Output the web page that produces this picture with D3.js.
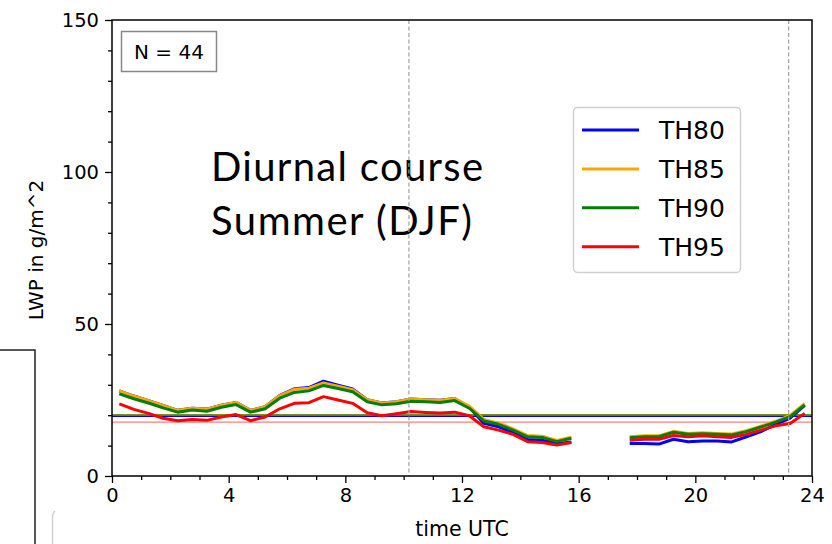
<!DOCTYPE html>
<html><head><meta charset="utf-8">
<script src="https://cdn.jsdelivr.net/npm/d3@7"></script>
<style>body{margin:0;background:#fff}svg{display:block}</style>
</head><body>
<svg id="c" width="832" height="544"></svg>
<script>
const times = [0.25,0.75,1.25,1.75,2.25,2.75,3.25,3.75,4.25,4.75,5.25,5.75,6.25,6.75,7.25,7.75,8.25,8.75,9.25,9.75,10.25,10.75,11.25,11.75,12.25,12.75,13.25,13.75,14.25,14.75,15.25,15.75,16.25,16.75,17.25,17.75,18.25,18.75,19.25,19.75,20.25,20.75,21.25,21.75,22.25,22.75,23.25,23.75];
const th80 = [28.0,26.3,24.8,23.2,21.6,22.3,22.0,23.3,24.2,21.6,22.8,26.5,28.7,29.1,31.2,29.9,28.6,25.1,24.0,24.4,25.3,25.1,24.9,25.5,22.6,17.3,16.2,14.4,12.0,11.8,10.6,11.2,null,null,null,10.7,10.7,10.5,12.1,11.3,11.5,11.5,11.2,12.9,14.6,17.0,19.0,23.2];
const th85 = [28.0,26.3,24.8,23.2,21.6,22.3,22.0,23.3,24.2,21.6,22.8,26.4,28.5,28.9,30.6,29.5,28.4,25.1,24.0,24.4,25.3,25.1,24.9,25.5,23.0,18.6,17.4,15.5,13.3,13.1,11.7,12.8,null,null,null,12.9,13.2,13.2,14.7,14.0,14.2,14.0,13.8,14.9,16.4,18.0,19.9,23.8];
const th90 = [27.0,25.4,24.0,22.4,21.0,21.7,21.3,22.6,23.5,21.0,22.1,25.6,27.5,28.0,29.8,28.8,27.7,24.4,23.4,23.8,24.6,24.4,24.2,24.8,22.3,18.1,17.0,15.1,12.9,12.7,11.3,12.4,null,null,null,12.6,12.9,12.9,14.4,13.7,13.9,13.7,13.5,14.6,16.1,17.7,19.5,23.4];
const th95 = [23.7,21.9,20.6,19.0,18.2,18.6,18.3,19.4,20.2,18.2,19.4,22.1,23.9,24.1,26.1,25.0,23.9,20.8,19.8,20.5,21.2,20.9,20.7,21.0,19.8,16.2,15.1,13.7,11.3,11.0,10.2,11.0,null,null,null,11.8,12.1,12.1,13.3,12.9,13.2,12.9,12.7,13.7,15.1,16.5,17.3,20.6];
const seriesNames = ["TH80","TH85","TH90","TH95"];
const seriesColors = ["#0000ff","#ffa500","#008000","#ff0000"];
const meanValues = [19.6,20.2,20.0,17.7];
const markerTimes = [10.18,23.2];
const xTicks = [0,4,8,12,16,20,24];
const yTicks = [0,50,100,150];
const titleLines = ["Diurnal course","Summer (DJF)"];
const nLabel = "N = 44";

const svg = d3.select("#c");
const W=832,H=544, m={l:112,t:20,r:20,b:68};
const x = d3.scaleLinear().domain([0,24]).range([m.l,W-m.r]);
const y = d3.scaleLinear().domain([0,150]).range([H-m.b,m.t]);
const tickFont = "'DejaVu Sans', sans-serif";

// screenshot artifacts on the left
svg.append("path").attr("d","M0,350H35V544").attr("fill","none").attr("stroke","#222").attr("stroke-width",1.5);
svg.append("path").attr("d","M52.5,544V518Q52.5,513 55,511").attr("fill","none").attr("stroke","#d0d0d0").attr("stroke-width",1.5);

// title text (overlay)
const tt = svg.append("text").attr("font-family","Lato, 'Open Sans', sans-serif").attr("font-size",40).attr("fill","#000");
const titleWidths = [272,261];
titleLines.forEach((s,i)=>tt.append("tspan").attr("x",211).attr("y",181+i*54)
  .attr("textLength",titleWidths[i]).attr("lengthAdjust","spacing").text(s));

// mean lines
const series=[th80,th85,th90,th95];
meanValues.forEach((v,i)=>{
  svg.append("line").attr("x1",x(0)).attr("x2",x(24)).attr("y1",y(v)).attr("y2",y(v))
    .attr("stroke",seriesColors[i]).attr("stroke-width",1.3).attr("opacity",i===3?0.5:1);
});

// series lines
const line = d3.line().defined(d=>d[1]!==null).x(d=>x(d[0])).y(d=>y(d[1]));
series.forEach((s,i)=>{
  svg.append("path").datum(times.map((t,j)=>[t,s[j]])).attr("d",line)
    .attr("fill","none").attr("stroke",seriesColors[i]).attr("stroke-width",3).attr("stroke-linejoin","round");
});

// dashed vertical markers
markerTimes.forEach(t=>{
  svg.append("line").attr("x1",x(t)).attr("x2",x(t)).attr("y1",y(150)).attr("y2",y(0))
    .attr("stroke","#a0a0a0").attr("stroke-width",1.2).attr("stroke-dasharray","4,2.5");
});

// axes
const xAxis = d3.axisBottom(x).tickValues(xTicks).tickSize(7).tickPadding(5).tickFormat(d3.format("d"));
const xMinor = d3.axisBottom(x).tickValues(d3.range(0,25,1).filter(v=>v%4)).tickSize(4).tickFormat("");
const yAxis = d3.axisLeft(y).tickValues(yTicks).tickSize(7).tickPadding(6).tickFormat(d3.format("d"));
const yMinor = d3.axisLeft(y).tickValues(d3.range(0,151,10).filter(v=>v%50)).tickSize(4).tickFormat("");
function style(g){g.select(".domain").remove();g.selectAll("line").attr("stroke","#000").attr("stroke-width",1.3);
  g.selectAll("text").attr("font-family",tickFont).attr("font-size",19.5).attr("fill","#000");}
svg.append("g").attr("transform",`translate(0,${y(0)})`).call(xAxis).call(style);
svg.append("g").attr("transform",`translate(0,${y(0)})`).call(xMinor).call(style);
svg.append("g").attr("transform",`translate(${x(0)},0)`).call(yAxis).call(style);
svg.append("g").attr("transform",`translate(${x(0)},0)`).call(yMinor).call(style);

// frame
svg.append("rect").attr("x",x(0)).attr("y",y(150)).attr("width",x(24)-x(0)).attr("height",y(0)-y(150))
  .attr("fill","none").attr("stroke","#000").attr("stroke-width",1.5);

// axis labels
svg.append("text").attr("x",x(12)).attr("y",536).attr("text-anchor","middle")
  .attr("font-family",tickFont).attr("font-size",20.5).text("time UTC");
svg.append("text").attr("transform","translate(43,250) rotate(-90)").attr("text-anchor","middle")
  .attr("font-family",tickFont).attr("font-size",20).text("LWP in g/m^2");

// N box
svg.append("rect").attr("x",121.5).attr("y",31.5).attr("width",95).attr("height",40)
  .attr("fill","#fff").attr("stroke","#888").attr("stroke-width",1.5);
svg.append("text").attr("x",169).attr("y",58.5).attr("text-anchor","middle")
  .attr("font-family",tickFont).attr("font-size",20).text(nLabel);

// legend
const lg = svg.append("g");
lg.append("rect").attr("x",573.5).attr("y",107.5).attr("width",167).attr("height",165).attr("rx",4)
  .attr("fill","#fff").attr("fill-opacity",0.85).attr("stroke","#d0d0d0").attr("stroke-width",1.5);
seriesNames.forEach((n,i)=>{
  const yy = 130+i*38.9;
  lg.append("line").attr("x1",582).attr("x2",639).attr("y1",yy).attr("y2",yy)
    .attr("stroke",seriesColors[i]).attr("stroke-width",3);
  lg.append("text").attr("x",659).attr("y",yy+9).attr("font-family",tickFont).attr("font-size",25).text(n);
});
</script>
</body></html>
